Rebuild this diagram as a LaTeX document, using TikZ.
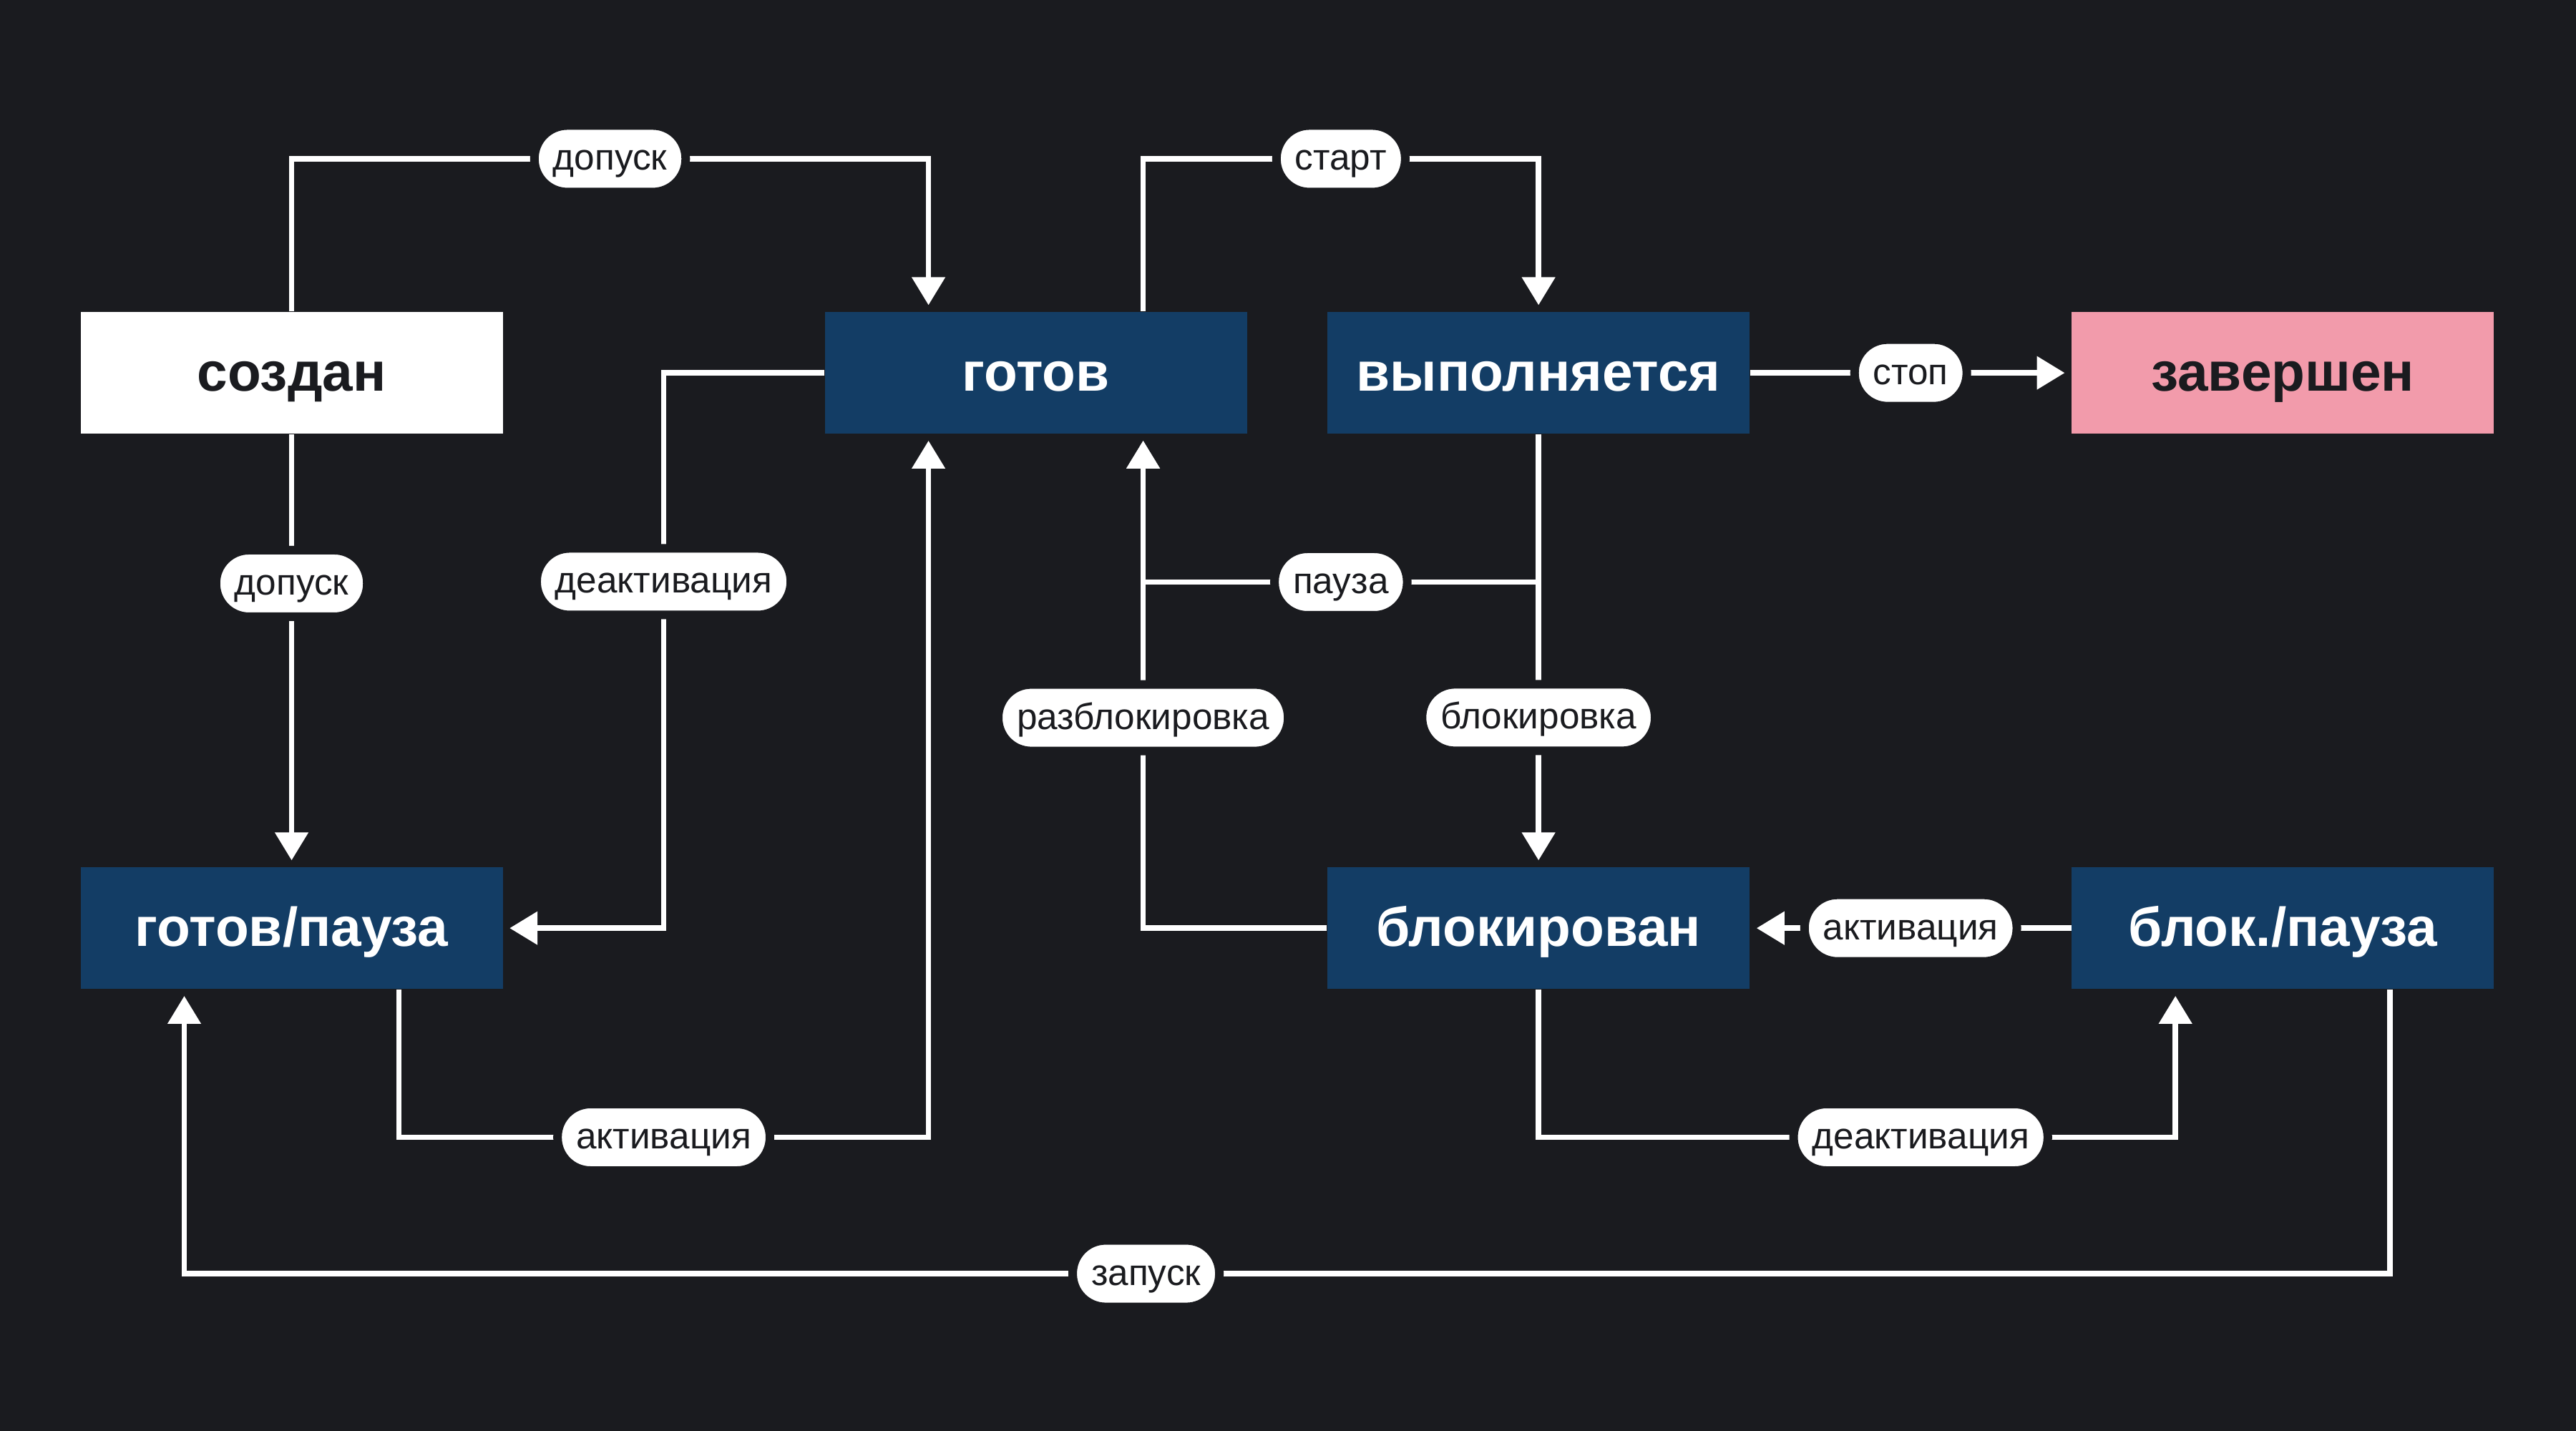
\documentclass[tikz,border=0pt]{standalone}
\usepackage{fontspec}
\setmainfont{Liberation Sans}
\usetikzlibrary{arrows.meta}
\definecolor{bg}{HTML}{1A1B1F}
\definecolor{boxblue}{HTML}{133D65}
\definecolor{boxpink}{HTML}{F29BAB}
\tikzset{
  state/.style={minimum width=5.9cm, minimum height=1.7cm, inner sep=0pt,
    fill=boxblue, text=white, text height=0.60cm, text depth=0.10cm,
    font=\fontsize{21.8}{26}\selectfont\bfseries},
  lbl/.style={fill=white, draw=bg, line width=0.12cm, rounded corners=0.46cm,
    minimum height=0.93cm, inner xsep=0.26cm, inner ysep=0pt, text=bg,
    text height=0.37cm, text depth=0.05cm, font=\fontsize{14.6}{17}\selectfont},
  link/.style={draw=white, line width=2.2pt},
  arr/.style={link, -{Triangle[length=0.39cm,width=0.45cm]}, shorten >=0.09cm}
}
\begin{document}
\begin{tikzpicture}[x=2.296cm,y=2.296cm]
    \fill[bg] (0,0) rectangle (15.68,8.71);
    \useasboundingbox (0,0) rectangle (15.68,8.71);
    % states
    \node[state, fill=white, text=bg] (sozdan) at (1.775,6.44){создан};
    \node[state] (gotov) at (6.305,6.44){готов};
    \node[state] (vypoln) at (9.365,6.44){выполняется};
    \node[state, fill=boxpink, text=bg] (zavershen) at (13.895,6.44){завершен};
    \node[state] (gotovpauza) at (1.775,3.06){готов/пауза};
    \node[state] (blokirovan) at (9.365,3.06){блокирован};
    \node[state] (blokpauza) at (13.895,3.06){блок./пауза};
    % transitions
    \draw[arr] (sozdan.north) -- ++(0,0.93) -| node[lbl,pos=.25]{допуск} ([xshift=-1.5cm]gotov.north);
    \draw[arr] ([xshift=1.5cm]gotov.north) -- ++(0,0.93) -| node[lbl,pos=.25]{старт} (vypoln.north);
    \draw[arr] (vypoln) -- node[lbl]{стоп} (zavershen);
    \draw[arr] (sozdan) -- node[lbl,pos=.345]{допуск} (gotovpauza);
    \draw[arr] (gotov.west) -- (4.04,6.44) -- node[lbl,pos=.376]{деактивация} (4.04,3.06) -- (gotovpauza.east);
    \draw[arr] ([xshift=1.5cm]gotovpauza.south) -- ++(0,-0.90) -| node[lbl,pos=.25]{активация} ([xshift=-1.5cm]gotov.south);
    \draw[arr] (vypoln.south) -- ++(0,-0.90) -| node[lbl,pos=.25]{пауза} ([xshift=1.5cm]gotov.south);
    \draw[arr] (vypoln) -- node[lbl,pos=.655]{блокировка} (blokirovan);
    \draw[arr] (blokirovan.west) -| node[lbl,pos=.713]{разблокировка} ([xshift=1.5cm]gotov.south);
    \draw[arr] (blokpauza) -- node[lbl]{активация} (blokirovan);
    \draw[arr] (blokirovan.south) -- ++(0,-0.90) -| node[lbl,pos=.3]{деактивация} ([xshift=-1.5cm]blokpauza.south);
    \draw[arr] ([xshift=1.5cm]blokpauza.south) -- ++(0,-1.73) -| node[lbl,pos=.282]{запуск} ([xshift=-1.5cm]gotovpauza.south);
\end{tikzpicture}
\end{document}
